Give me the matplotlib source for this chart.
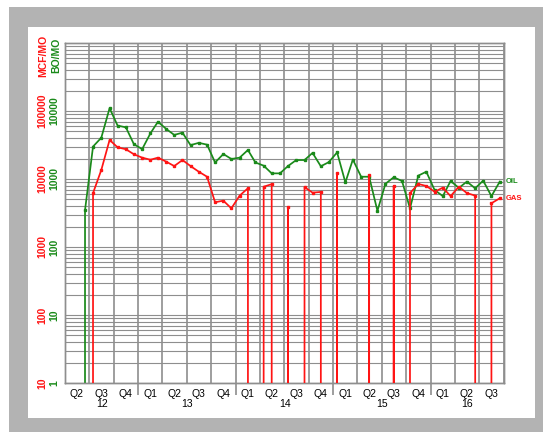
import datetime as dt
import matplotlib
matplotlib.use("Agg")
import matplotlib.pyplot as plt
import matplotlib.dates as mdates
import matplotlib.ticker as mticker
import matplotlib.transforms as mtransforms
from matplotlib.patches import Rectangle

plt.rcParams['font.family'] = ['Liberation Sans', 'DejaVu Sans']

# ---------------- data ----------------
months = [
    "2012-05", "2012-06", "2012-07", "2012-08", "2012-09", "2012-10", "2012-11", "2012-12",
    "2013-01", "2013-02", "2013-03", "2013-04", "2013-05", "2013-06", "2013-07", "2013-08",
    "2013-09", "2013-10", "2013-11", "2013-12",
    "2014-01", "2014-02", "2014-03", "2014-04", "2014-05", "2014-06", "2014-07", "2014-08",
    "2014-09", "2014-10", "2014-11", "2014-12",
    "2015-01", "2015-02", "2015-03", "2015-04", "2015-05", "2015-06", "2015-07", "2015-08",
    "2015-09", "2015-10", "2015-11", "2015-12",
    "2016-01", "2016-02", "2016-03", "2016-04", "2016-05", "2016-06", "2016-07", "2016-08",
    "2016-09",
]
oil_bo = [
    0, 350, 3000, 4050, 11000, 6100, 5750, 3250,
    2750, 4700, 6950, 5450, 4450, 4800, 3150, 3400,
    3200, 1750, 2330, 1970,
    2060, 2670, 1750, 1570, 1210, 1210, 1550, 1900,
    1900, 2420, 1540, 1770,
    2460, 890, 1930, 1080, 1080, 340, 850, 1060,
    935, 370, 1120, 1280,
    690, 560, 935, 740, 915, 730, 945, 560,
    913,
]
gas_mcf = [
    0, 0, 6200, 13600, 37500, 29200, 27400, 23100,
    20600, 19200, 20600, 18000, 15500, 19000, 15500, 12800,
    10800, 4550, 4800, 3700,
    5700, 7300, 0, 7700, 8400, 0, 3850, 0,
    7600, 6300, 6450, 0,
    12100, 0, 0, 0, 11300, 0, 0, 7900,
    0, 6200, 8450, 7900,
    6500, 7450, 5600, 7700, 6200, 5700, 0, 4400,
    5200,
]
oil_ticks = [1, 10, 100, 1000, 10000]
oil_tick_labels = ["1", "10", "100", "1000", "10000"]
gas_ticks = [10, 100, 1000, 10000, 100000]
gas_tick_labels = ["10", "100", "1000", "10000", "100000"]
x_start = dt.datetime(2012, 4, 1)
x_end = dt.datetime(2016, 10, 1)
years = [2012, 2013, 2014, 2015, 2016]

GREEN = "#1a8a1a"
RED = "#ff1414"
GRID = "#8e8e8e"

dates = [dt.datetime(int(m[:4]), int(m[5:]), 15) for m in months]

W, H = 543, 432
fig = plt.figure(figsize=(W / 100, H / 100), dpi=100, facecolor="white")

# background frame
fig.add_artist(Rectangle((9 / W, 0), (W - 9) / W, (H - 7) / H, transform=fig.transFigure,
                         facecolor="#b3b3b3", edgecolor="none", zorder=-10))
fig.add_artist(Rectangle((28 / W, 14 / H), 507 / W, 391 / H, transform=fig.transFigure,
                         facecolor="white", edgecolor="none", zorder=-9))

ax = fig.add_axes([65 / W, 49 / H, 439 / W, 340 / H])
ax.set_facecolor("none")
ax.set_yscale("log")
ax.set_ylim(1, 1e5)
ax.set_xlim(x_start, x_end)

ax2 = ax.twinx()
ax2.set_yscale("log")
ax2.set_ylim(10, 1e6)
ax2.set_xlim(x_start, x_end)

ax.plot(dates, oil_bo, color=GREEN, lw=1.25, marker="s", ms=1.7, zorder=3)
ax2.plot(dates, gas_mcf, color=RED, lw=1.25, marker="s", ms=1.7, zorder=3)

# y ticks
ax.set_yticks(oil_ticks)
ax.set_yticklabels(oil_tick_labels)
ax.yaxis.set_minor_formatter(mticker.NullFormatter())
ax.tick_params(axis="y", which="both", length=0, pad=4, labelsize=7.5, labelcolor=GREEN)
for t in ax.get_yticklabels():
    t.set_rotation(90)
    t.set_va("center")
    t.set_fontweight("bold")

ax2.yaxis.tick_left()
ax2.set_yticks(gas_ticks)
ax2.set_yticklabels(gas_tick_labels)
ax2.yaxis.set_minor_formatter(mticker.NullFormatter())
ax2.tick_params(axis="y", which="both", length=0, pad=13, labelsize=7.5, labelcolor=RED)
for t in ax2.get_yticklabels():
    t.set_rotation(90)
    t.set_va("center")
    t.set_fontweight("bold")

# x ticks: quarter boundaries (grid) and quarter labels
ax.xaxis.set_major_locator(mdates.MonthLocator(bymonth=[1, 4, 7, 10]))
ax.xaxis.set_major_formatter(mticker.NullFormatter())
ax.xaxis.set_minor_locator(mdates.MonthLocator(bymonth=[2, 5, 8, 11], bymonthday=15))
ax.xaxis.set_minor_formatter(mticker.FuncFormatter(
    lambda v, p: "Q%d" % ((mdates.num2date(v).month - 1) // 3 + 1)))
ax.tick_params(axis="x", which="both", length=0)
ax.tick_params(axis="x", which="minor", pad=4, labelsize=7.5)
ax2.tick_params(axis="x", which="both", length=0, labelbottom=False, labeltop=False)

ax.grid(True, axis="y", which="both", color=GRID, lw=0.8)
ax.grid(True, axis="x", which="major", color=GRID, lw=1.2)
ax.grid(False, axis="x", which="minor")
for a in (ax, ax2):
    for s in a.spines.values():
        s.set_color(GRID)
        s.set_linewidth(1.0)

# long ticks at year boundaries
sec = ax.secondary_xaxis("bottom")
sec.set_xticks([mdates.date2num(dt.datetime(y, 1, 1)) for y in years[1:]])
sec.tick_params(axis="x", length=8.5, width=1.2, color=GRID, labelbottom=False)
sec.xaxis.set_minor_locator(mticker.NullLocator())
sec.spines["bottom"].set_visible(False)

# year labels
trans = mtransforms.blended_transform_factory(ax.transData, ax.transAxes)
x0n, x1n = mdates.date2num(x_start), mdates.date2num(x_end)
for y in years:
    a = max(mdates.date2num(dt.datetime(y, 1, 1)), x0n)
    b = min(mdates.date2num(dt.datetime(y + 1, 1, 1)), x1n)
    ax.text((a + b) / 2, -21 / 340, str(y % 100), transform=trans, ha="center",
            va="center", fontsize=7.5)

# unit labels
fig.text(43 / W, 1 - 35 / H, "MCF/MO", color=RED, rotation=90, ha="center", va="top",
         fontsize=7.5, fontweight="bold")
fig.text(56 / W, 1 - 38 / H, "BO/MO", color=GREEN, rotation=90, ha="center", va="top",
         fontsize=7.5, fontweight="bold")

# series labels
ax.annotate("OIL", xy=(dates[-1], oil_bo[-1]), xytext=(4.5, 0), textcoords="offset points",
            color=GREEN, fontsize=5.5, fontweight="bold", va="center", ha="left",
            annotation_clip=False)
ax2.annotate("GAS", xy=(dates[-1], gas_mcf[-1]), xytext=(4.5, 0), textcoords="offset points",
             color=RED, fontsize=5.5, fontweight="bold", va="center", ha="left",
             annotation_clip=False)

fig.savefig("out.png", dpi=100, facecolor="white")
